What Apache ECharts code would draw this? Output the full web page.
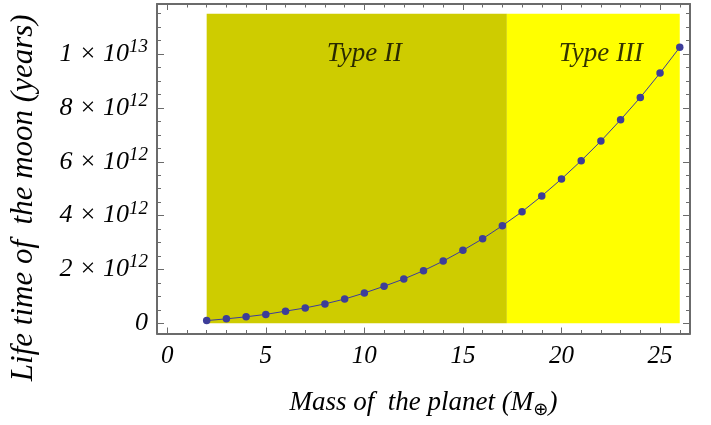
<!DOCTYPE html>
<html><head><meta charset="utf-8">
<script src="https://cdn.jsdelivr.net/npm/echarts@6/dist/echarts.min.js"></script>
<style>html,body{margin:0;padding:0;background:#fff}#c{width:711px;height:425px}</style>
</head><body><div id="c"></div>
<script>
// ---- data ----
const masses = [2,3,4,5,6,7,8,9,10,11,12,13,14,15,16,17,18,19,20,21,22,23,24,25,26];
const lifetimes = [0.10e12,0.165e12,0.24e12,0.33e12,0.45e12,0.57e12,0.72e12,0.90e12,1.125e12,1.375e12,1.645e12,1.955e12,2.31e12,2.71e12,3.14e12,3.625e12,4.145e12,4.73e12,5.36e12,6.04e12,6.77e12,7.56e12,8.39e12,9.295e12,10.25e12];
const xMajorTicks = [0,5,10,15,20,25];
const xMinorTicks = [1,2,3,4,6,7,8,9,11,12,13,14,16,17,18,19,21,22,23,24,26];
const yMajorTicks = [0,2e12,4e12,6e12,8e12,1e13];
const yMinorTicks = [0.5e12,1e12,1.5e12,2.5e12,3e12,3.5e12,4.5e12,5e12,5.5e12,6.5e12,7e12,7.5e12,8.5e12,9e12,9.5e12,10.5e12,11e12,11.5e12];
const yTickMantissa = ['0','2','4','6','8','1'];
const yTickExponent = ['','12','12','12','12','13'];
const regionNames = ['Type II','Type III'];
const regionStart = [2, 17.23];
const regionEnd = [17.23, 26];
const regionTop = 11.5e12;
const regionLabelX = [10, 22];
const regionLabelY = [1e13, 1e13];
const xTitle = ['Mass of  the planet (M', '\u2295', ')'];
const yTitle = 'Life time of  the moon (years)';

// ---- styles ----
const FONT = 'Liberation Serif';
const frameColor = '#6b6b6b';
const regionColors = ['#CECC00', '#FFFF00'];
const X_MIN = -0.52, X_MAX = 26.52, Y_MIN = -0.38e12, Y_MAX = 11.86e12;

function xAx(pos, ticks, len, showLine, showLabel, extra) {
  return Object.assign({
    type: 'value', position: pos, min: X_MIN, max: X_MAX,
    axisLine: {show: showLine, onZero: false, lineStyle: {color: frameColor, width: 2}},
    axisTick: {show: true, inside: true, length: len, customValues: ticks, lineStyle: {color: frameColor, width: 1}},
    axisLabel: showLabel ? {show: true, customValues: ticks, margin: 10, color: '#000',
      fontFamily: FONT, fontStyle: 'italic', fontSize: 25} : {show: false},
    splitLine: {show: false}
  }, extra || {});
}
function yAx(pos, ticks, len, showLine, showLabel, extra) {
  return Object.assign({
    type: 'value', position: pos, min: Y_MIN, max: Y_MAX,
    axisLine: {show: showLine, onZero: false, lineStyle: {color: frameColor, width: 2}},
    axisTick: {show: true, inside: true, length: len, customValues: ticks, lineStyle: {color: frameColor, width: 1}},
    axisLabel: showLabel ? {show: true, customValues: ticks, margin: 9, color: '#000',
      formatter: function (v) {
        const i = yMajorTicks.indexOf(v);
        if (i < 0) return '';
        if (!yTickExponent[i]) return '{m|' + yTickMantissa[i] + '}';
        return '{m|' + yTickMantissa[i] + ' \u00d7 10}{s|' + yTickExponent[i] + '}';
      },
      rich: {
        m: {fontFamily: FONT, fontStyle: 'italic', fontSize: 26, color: '#000'},
        s: {fontFamily: FONT, fontStyle: 'italic', fontSize: 19, color: '#000', padding: [0, 0, 14, 0]}
      }} : {show: false},
    splitLine: {show: false}
  }, extra || {});
}

const chart = echarts.init(document.getElementById('c'), null, {renderer: 'canvas'});
chart.setOption({
  animation: false,
  backgroundColor: '#fff',
  grid: {left: 156, right: 21, top: 4, bottom: 91.5, containLabel: false},
  xAxis: [
    xAx('bottom', xMajorTicks, 6, true, true, {
      name: '{t|' + xTitle[0] + '}{u|' + xTitle[1] + '}{t|' + xTitle[2] + '}',
      nameLocation: 'middle', nameGap: 52,
      nameTextStyle: {rich: {
        t: {fontFamily: FONT, fontStyle: 'italic', fontSize: 27, color: '#000'},
        u: {fontFamily: 'DejaVu Sans', fontSize: 18, color: '#000', padding: [16, 0, 0, 0]}
      }}
    }),
    xAx('bottom', xMinorTicks, 3.5, false, false),
    xAx('top', xMajorTicks, 6, true, false),
    xAx('top', xMinorTicks, 3.5, false, false)
  ],
  yAxis: [
    yAx('left', yMajorTicks, 7, true, true, {
      name: yTitle, nameLocation: 'middle', nameGap: 118, nameRotate: 90,
      nameTextStyle: {fontFamily: FONT, fontStyle: 'italic', fontSize: 31, color: '#000', padding: [0, 58, 0, 0]}
    }),
    yAx('left', yMinorTicks, 4, false, false),
    yAx('right', yMajorTicks, 7, true, false),
    yAx('right', yMinorTicks, 4, false, false)
  ],
  series: [
    {
      type: 'line', xAxisIndex: 0, yAxisIndex: 0, data: [], z: 1, silent: true,
      markArea: {
        silent: true, label: {show: false},
        data: regionNames.map((n, i) => [
          {name: n, xAxis: regionStart[i], yAxis: 0, itemStyle: {color: regionColors[i], opacity: 1}},
          {xAxis: regionEnd[i], yAxis: regionTop}
        ])
      }
    },
    {
      type: 'line', xAxisIndex: 0, yAxisIndex: 0, z: 3,
      data: masses.map((m, i) => [m, lifetimes[i]]),
      symbol: 'circle', symbolSize: 7.5, showSymbol: true,
      lineStyle: {color: '#3D3D99', width: 1},
      itemStyle: {color: '#3D3D99'}
    },
    {
      type: 'scatter', xAxisIndex: 0, yAxisIndex: 0, z: 4, silent: true,
      symbolSize: 0.001, itemStyle: {color: 'transparent'},
      data: regionNames.map((n, i) => ({name: n, value: [regionLabelX[i], regionLabelY[i]]})),
      label: {show: true, position: 'inside', formatter: '{b}', color: '#000',
        fontFamily: FONT, fontStyle: 'italic', fontSize: 27}
    }
  ]
});
</script></body></html>
